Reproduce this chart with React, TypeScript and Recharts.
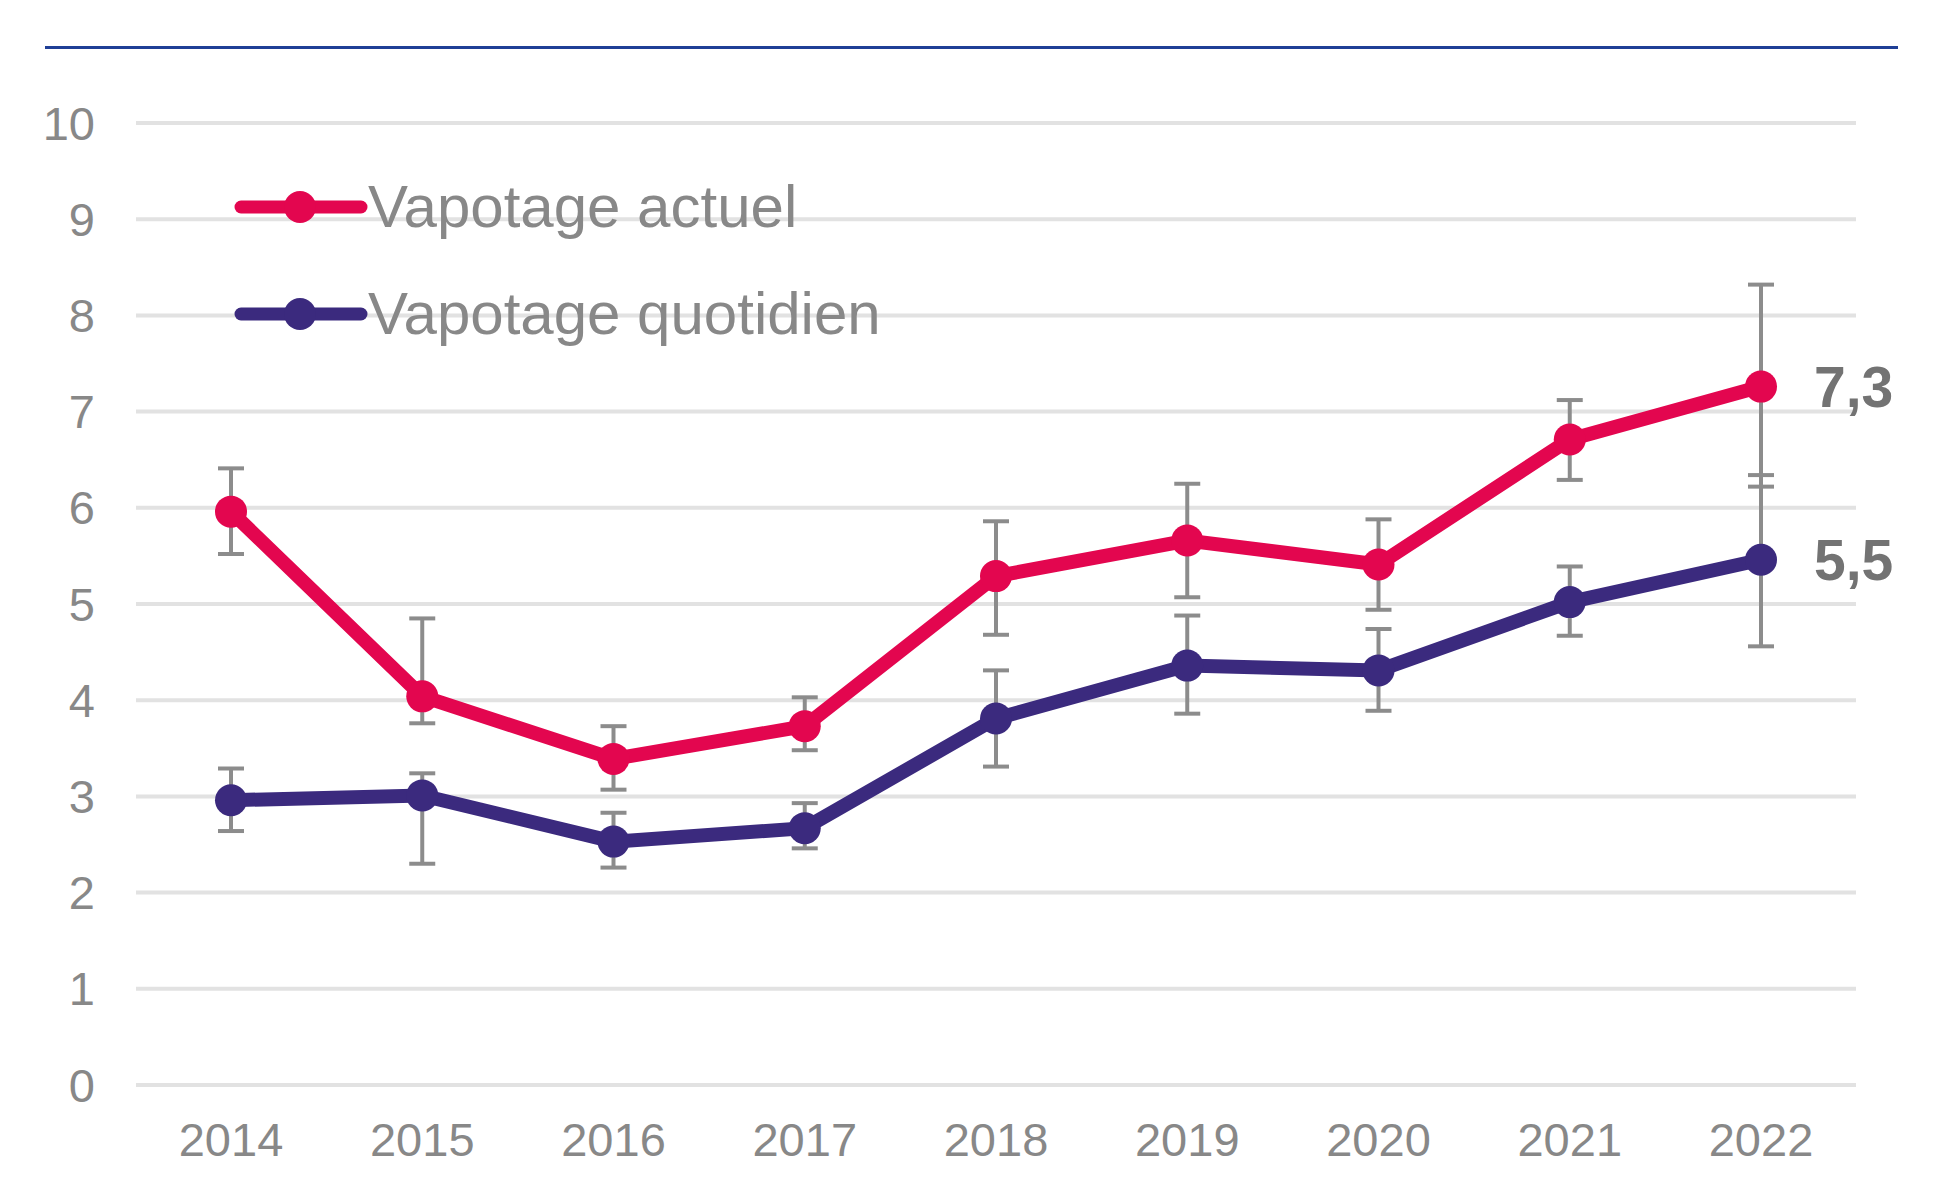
import React from 'react';
import { LineChart, Line, XAxis, YAxis, CartesianGrid, ErrorBar, LabelList } from 'recharts';

const years = ['2014', '2015', '2016', '2017', '2018', '2019', '2020', '2021', '2022'];
const actuel = [5.96, 4.04, 3.39, 3.73, 5.29, 5.66, 5.41, 6.71, 7.26];
const actuelLow = [5.52, 3.76, 3.07, 3.48, 4.68, 5.07, 4.94, 6.29, 6.22];
const actuelHigh = [6.41, 4.85, 3.73, 4.03, 5.86, 6.25, 5.88, 7.12, 8.32];
const quotidien = [2.96, 3.01, 2.53, 2.67, 3.81, 4.36, 4.31, 5.02, 5.46];
const quotidienLow = [2.64, 2.3, 2.26, 2.46, 3.31, 3.86, 3.89, 4.67, 4.56];
const quotidienHigh = [3.29, 3.24, 2.83, 2.93, 4.31, 4.88, 4.74, 5.39, 6.34];
const yTicks = [0, 1, 2, 3, 4, 5, 6, 7, 8, 9, 10];
const seriesNames = ['Vapotage actuel', 'Vapotage quotidien'];

const PINK = '#E3064F';
const PURPLE = '#3B2A7E';
const GRAY_TEXT = '#888888';
const ERR = '#8C8C8C';
const FONT = '"Liberation Sans", Arial, sans-serif';
const seriesColors = [PINK, PURPLE];

const data = years.map((y, i) => ({
  year: y,
  actuel: actuel[i],
  actuelErr: [+(actuel[i] - actuelLow[i]).toFixed(2), +(actuelHigh[i] - actuel[i]).toFixed(2)],
  quotidien: quotidien[i],
  quotidienErr: [+(quotidien[i] - quotidienLow[i]).toFixed(2), +(quotidienHigh[i] - quotidien[i]).toFixed(2)],
}));

const lastIndex = years.length - 1;

const EndLabel = (props: any) => {
  const { x, y, value, index } = props;
  if (index !== lastIndex) return null;
  return (
    <text x={x + 53} y={y} dy="0.36em" textAnchor="start" fill="#737373" fontSize={57} fontWeight="bold" fontFamily={FONT}>
      {Number(value).toFixed(1).replace('.', ',')}
    </text>
  );
};

const LegendBox = () => (
  <svg width={720} height={210} style={{ position: 'absolute', left: 220, top: 150, display: 'block' }}>
    {seriesNames.map((name, i) => {
      const cy = 57 + i * 107;
      return (
        <g key={i}>
          <line x1={21} y1={cy} x2={141} y2={cy} stroke={seriesColors[i]} strokeWidth={13} strokeLinecap="round" />
          <circle cx={80} cy={cy} r={16} fill={seriesColors[i]} />
          <text x={148} y={cy + 20} fontSize={60} fill={GRAY_TEXT} fontFamily={FONT}>
            {name}
          </text>
        </g>
      );
    })}
  </svg>
);

export default function App() {
  return (
    <div style={{ position: 'absolute', left: 0, top: 0, width: 1944, height: 1179, background: '#fff' }}>
      <div style={{ position: 'absolute', left: 45, top: 46, width: 1853, height: 3, background: '#1F3F96' }} />
      <LineChart
        width={1944}
        height={1179}
        data={data}
        margin={{ top: 123, right: 88, left: 0, bottom: 0 }}
        style={{ fontFamily: FONT }}
      >
        <CartesianGrid vertical={false} stroke="#E2E2E2" strokeWidth={4} />
        <XAxis
          dataKey="year"
          height={94}
          padding={{ left: 95, right: 95 }}
          axisLine={false}
          tickLine={false}
          tickSize={0}
          tickMargin={38}
          tick={{ fill: GRAY_TEXT, fontSize: 47, fontFamily: FONT }}
          interval={0}
        />
        <YAxis
          width={136}
          domain={[0, 10]}
          ticks={yTicks}
          axisLine={false}
          tickLine={false}
          tickSize={0}
          tickMargin={41}
          tick={{ fill: GRAY_TEXT, fontSize: 47, fontFamily: FONT }}
          interval={0}
        />
        <Line
          name={seriesNames[0]}
          dataKey="actuel"
          stroke={PINK}
          strokeWidth={14}
          dot={{ r: 16, fill: PINK, stroke: PINK, strokeWidth: 0 }}
          activeDot={false}
          isAnimationActive={false}
        >
          <ErrorBar dataKey="actuelErr" direction="y" width={13} stroke={ERR} strokeWidth={4} />
          <LabelList dataKey="actuel" content={EndLabel} />
        </Line>
        <Line
          name={seriesNames[1]}
          dataKey="quotidien"
          stroke={PURPLE}
          strokeWidth={14}
          dot={{ r: 16, fill: PURPLE, stroke: PURPLE, strokeWidth: 0 }}
          activeDot={false}
          isAnimationActive={false}
        >
          <ErrorBar dataKey="quotidienErr" direction="y" width={13} stroke={ERR} strokeWidth={4} />
          <LabelList dataKey="quotidien" content={EndLabel} />
        </Line>
      </LineChart>
      <LegendBox />
    </div>
  );
}
